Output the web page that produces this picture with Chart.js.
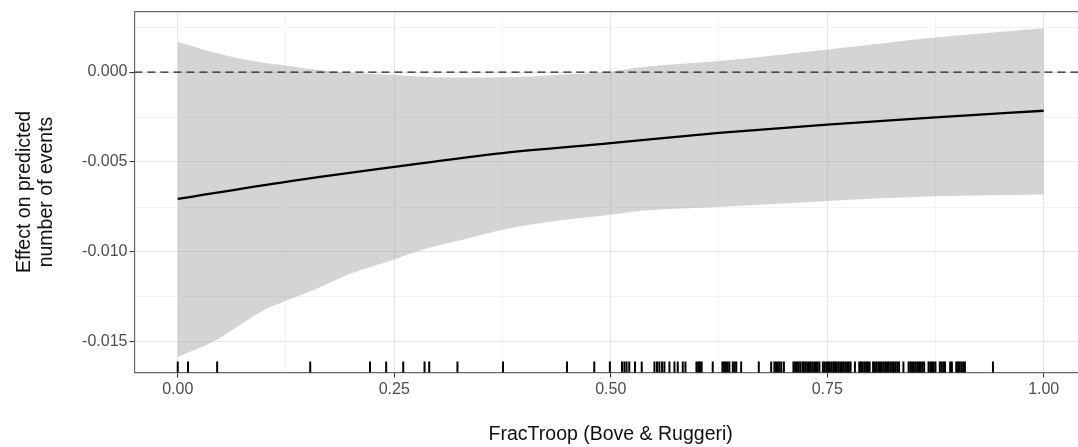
<!DOCTYPE html>
<html>
<head>
<meta charset="utf-8">
<script src="https://cdn.jsdelivr.net/npm/chart.js@4/dist/chart.umd.min.js"></script>
<style>
  html, body { margin: 0; padding: 0; background: #fff; overflow: hidden; }
  #wrap { width: 1100px; height: 447px; position: relative; }
</style>
</head>
<body>
<div id="wrap"><canvas id="c"></canvas></div>
<script>
// ---- data ----
const lineX = [0, 0.125, 0.25, 0.375, 0.5, 0.625, 0.75, 0.875, 1.0];
const lineY = [-0.00705, -0.0061, -0.00527, -0.0045, -0.00395, -0.00338, -0.00292, -0.00252, -0.00215];

const bandX     = [0, 0.04, 0.1, 0.125, 0.155, 0.2, 0.25, 0.29, 0.33, 0.375, 0.41, 0.445, 0.49, 0.54, 0.625, 0.75, 0.875, 1.0];
const bandUpper = [0.00169, 0.00112, 0.0005, 0.00037, 0.00015, -0.00004, -0.00017, -0.00027, -0.0003, -0.00029, -0.00024, -0.00013, -0.00002, 0.0003, 0.00061, 0.00125, 0.00192, 0.00244];
const bandLower = [-0.01583, -0.0150, -0.01322, -0.01271, -0.01216, -0.0112, -0.01041, -0.00977, -0.0093, -0.00876, -0.00846, -0.00822, -0.00799, -0.0077, -0.0075, -0.00716, -0.0069, -0.0068];

const refLineY = 0;

const rugX = [0, 0.0119, 0.0455, 0.153, 0.222, 0.2407, 0.2604, 0.285, 0.2904, 0.323, 0.3756, 0.4495, 0.481,
  0.499, 0.513, 0.5158, 0.5183, 0.5214, 0.528, 0.5358, 0.5505, 0.5535, 0.5562, 0.5593, 0.562, 0.5678, 0.5736,
  0.5774, 0.5832, 0.5863, 0.599, 0.601, 0.603, 0.605, 0.6178, 0.629, 0.631, 0.633, 0.635, 0.637, 0.641, 0.643, 0.645, 0.6506,
  0.671, 0.6853, 0.689, 0.691, 0.693, 0.695, 0.697, 0.700,
  0.711, 0.713, 0.715, 0.717, 0.719, 0.7215, 0.723, 0.725, 0.727, 0.729, 0.731, 0.733, 0.735, 0.737, 0.739, 0.741,
  0.745, 0.747, 0.749, 0.751, 0.753, 0.755, 0.757, 0.759, 0.761, 0.763, 0.765, 0.767, 0.769, 0.771, 0.773, 0.775, 0.777,
  0.782, 0.787, 0.789, 0.791, 0.793, 0.795, 0.797, 0.799,
  0.803, 0.805, 0.807, 0.809, 0.811, 0.813, 0.815, 0.817, 0.819, 0.821, 0.823, 0.825, 0.827, 0.829, 0.831, 0.833,
  0.838, 0.844, 0.846, 0.848, 0.850, 0.852, 0.854, 0.856, 0.858, 0.860, 0.862,
  0.867, 0.869, 0.871, 0.873, 0.875, 0.880, 0.882, 0.884, 0.886, 0.892, 0.894,
  0.899, 0.901, 0.903, 0.905, 0.907, 0.909, 0.9414];

const xMajorTicks = [0, 0.25, 0.5, 0.75, 1.0];
const xMinorTicks = [0.125, 0.375, 0.625, 0.875];
const yMajorTicks = [-0.015, -0.010, -0.005, 0.000];
const yMinorTicks = [-0.0125, -0.0075, -0.0025, 0.0025];

const xMin = -0.05, xMax = 1.05;
const yMin = -0.016691, yMax = 0.00336;

// ---- styling ----
const FONT = "'Liberation Sans', Arial, Helvetica, sans-serif";
const majorGrid = 'rgb(229,229,229)';
const minorGrid = 'rgb(240,240,240)';
const isMinor = (arr, v) => arr.some(m => Math.abs(m - v) < 1e-9);

const rugCenter = yMin + (yMax - yMin) * 0.015;

new Chart(document.getElementById('c'), {
  type: 'line',
  data: {
    datasets: [
      {
        label: 'effect',
        data: lineX.map((x, i) => ({ x, y: lineY[i] })),
        borderColor: '#000', borderWidth: 2.3, pointRadius: 0,
        cubicInterpolationMode: 'monotone', fill: false, order: 0
      },
      {
        label: 'zero',
        data: [{ x: xMin, y: refLineY }, { x: xMax, y: refLineY }],
        borderColor: '#222', borderWidth: 1.3, borderDash: [8, 5], pointRadius: 0,
        fill: false, order: 1
      },
      {
        label: 'rug',
        data: rugX.map(x => ({ x, y: rugCenter })),
        showLine: false, pointStyle: 'line', rotation: 90,
        pointRadius: 5.5, pointBorderWidth: 2, pointBorderColor: '#000',
        pointBackgroundColor: '#000', order: 2, clip: false
      },
      {
        label: 'upper',
        data: bandX.map((x, i) => ({ x, y: bandUpper[i] })),
        borderWidth: 0, borderColor: 'rgba(0,0,0,0)', pointRadius: 0,
        cubicInterpolationMode: 'monotone',
        fill: '+1', backgroundColor: 'rgba(153,153,153,0.42)', order: 4
      },
      {
        label: 'lower',
        data: bandX.map((x, i) => ({ x, y: bandLower[i] })),
        borderWidth: 0, borderColor: 'rgba(0,0,0,0)', pointRadius: 0,
        cubicInterpolationMode: 'monotone', fill: false, order: 5
      }
    ]
  },
  options: {
    responsive: true,
    maintainAspectRatio: false,
    animation: false,
    events: [],
    layout: { padding: { top: 10, right: 13, bottom: 0, left: 0 } },
    plugins: { legend: { display: false }, tooltip: { enabled: false } },
    scales: {
      x: {
        type: 'linear', position: 'bottom', min: xMin, max: xMax,
        afterBuildTicks: axis => { axis.ticks = [...xMajorTicks, ...xMinorTicks].sort((a, b) => a - b).map(v => ({ value: v })); },
        grid: {
          color: ctx => isMinor(xMinorTicks, ctx.tick.value) ? minorGrid : majorGrid,
          lineWidth: ctx => isMinor(xMinorTicks, ctx.tick.value) ? 0.8 : 1.1,
          tickColor: ctx => isMinor(xMinorTicks, ctx.tick.value) ? 'rgba(0,0,0,0)' : '#333',
          tickLength: 5, tickWidth: 1.1
        },
        border: { display: true, color: '#6a6a6a', width: 1.2 },
        ticks: {
          autoSkip: false, maxRotation: 0, padding: 3,
          color: '#4d4d4d', font: { family: FONT, size: 16 },
          callback: v => isMinor(xMinorTicks, v) ? '' : v.toFixed(2)
        },
        title: {
          display: true, text: 'FracTroop (Bove & Ruggeri)', color: '#111',
          font: { family: FONT, size: 19.5 }, padding: { top: 20, bottom: 1 }
        }
      },
      xTop: {
        type: 'linear', position: 'top', min: xMin, max: xMax,
        grid: { display: false, drawTicks: false },
        border: { display: true, color: '#6a6a6a', width: 1.2 },
        ticks: { display: false }
      },
      y: {
        type: 'linear', position: 'left', min: yMin, max: yMax,
        afterBuildTicks: axis => { axis.ticks = [...yMajorTicks, ...yMinorTicks].sort((a, b) => a - b).map(v => ({ value: v })); },
        grid: {
          color: ctx => isMinor(yMinorTicks, ctx.tick.value) ? minorGrid : majorGrid,
          lineWidth: ctx => isMinor(yMinorTicks, ctx.tick.value) ? 0.8 : 1.1,
          tickColor: ctx => isMinor(yMinorTicks, ctx.tick.value) ? 'rgba(0,0,0,0)' : '#333',
          tickLength: 5, tickWidth: 1.1
        },
        border: { display: true, color: '#6a6a6a', width: 1.2 },
        ticks: {
          autoSkip: false, padding: 2,
          color: '#4d4d4d', font: { family: FONT, size: 16 },
          callback: v => isMinor(yMinorTicks, v) ? '' : v.toFixed(3)
        },
        title: {
          display: true, text: ['Effect on predicted', 'number of events'], color: '#111',
          font: { family: FONT, size: 19.5, lineHeight: 1.13 }, padding: { top: 14, bottom: 22 }
        }
      }
    }
  }
});
</script>
</body>
</html>
